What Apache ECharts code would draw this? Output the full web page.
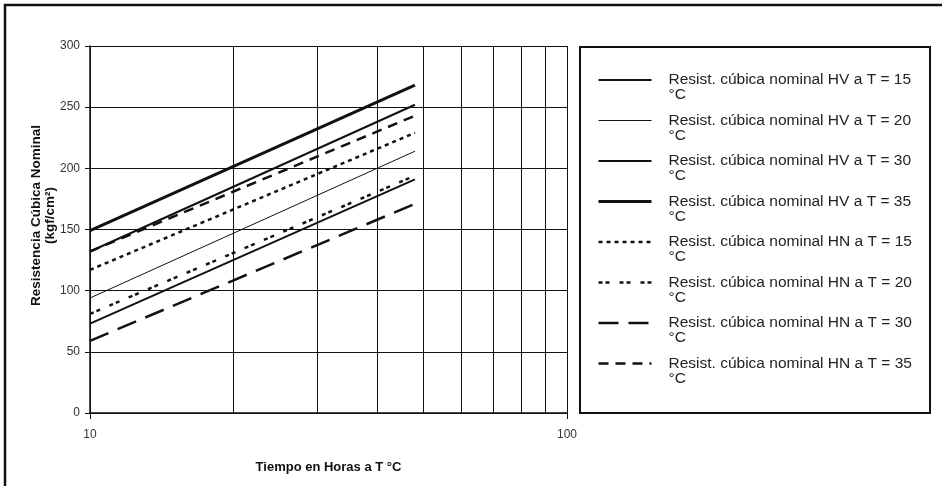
<!DOCTYPE html>
<html>
<head>
<meta charset="utf-8">
<script src="https://cdn.jsdelivr.net/npm/echarts@6/dist/echarts.min.js"></script>
<style>
  html, body { margin: 0; padding: 0; background: #fff; }
  #chart { width: 942px; height: 486px; }
</style>
</head>
<body>
<div id="chart"></div>
<script>
// Time in hours at temperature T (log scale), start and end of each line
const hours = [10, 48];

// Nominal cubic strength (kgf/cm²) – HV series
const hv15 = [73, 191];
const hv20 = [94, 214];
const hv30 = [132, 252];
const hv35 = [149, 268];

// Nominal cubic strength (kgf/cm²) – HN series
const hn15 = [117, 229];
const hn20 = [81, 194];
const hn30 = [59, 171];
const hn35 = [132, 243];

// Intermediate decade gridlines on the log axis
const gridHours = [20, 30, 40, 50, 60, 70, 80, 90];

const yTicks = { min: 0, max: 300, interval: 50 };

const seriesDefs = [
  { name: 'Resist. cúbica nominal HV a T = 15 °C', values: hv15, width: 2,   type: 'solid' },
  { name: 'Resist. cúbica nominal HV a T = 20 °C', values: hv20, width: 1,   type: 'solid' },
  { name: 'Resist. cúbica nominal HV a T = 30 °C', values: hv30, width: 2,   type: 'solid' },
  { name: 'Resist. cúbica nominal HV a T = 35 °C', values: hv35, width: 3,   type: 'solid' },
  { name: 'Resist. cúbica nominal HN a T = 15 °C', values: hn15, width: 2.5, type: [4, 4] },
  { name: 'Resist. cúbica nominal HN a T = 20 °C', values: hn20, width: 2.5, type: [4, 3, 4, 10] },
  { name: 'Resist. cúbica nominal HN a T = 30 °C', values: hn30, width: 2.5, type: [20, 10] },
  { name: 'Resist. cúbica nominal HN a T = 35 °C', values: hn35, width: 2.5, type: [10, 7] }
];

const ink = '#111';
const font = '"Liberation Sans", Arial, sans-serif';

const series = seriesDefs.map((d, i) => {
  const s = {
    name: d.name,
    type: 'line',
    symbol: 'none',
    data: hours.map((h, k) => [h, d.values[k]]),
    lineStyle: { color: ink, width: d.width, type: d.type },
    itemStyle: { color: ink },
    z: 3
  };
  if (i === 0) {
    s.markLine = {
      silent: true,
      symbol: 'none',
      label: { show: false },
      lineStyle: { color: ink, width: 1, type: 'solid' },
      data: gridHours.map(h => ({ xAxis: h })),
      z: 1
    };
  }
  return s;
});

const chart = echarts.init(document.getElementById('chart'));
chart.setOption({
  animation: false,
  backgroundColor: '#fff',
  textStyle: { fontFamily: font },
  grid: { left: 90, right: 375, top: 46, bottom: 73 },
  xAxis: {
    type: 'log',
    logBase: 10,
    min: 10,
    max: 100,
    name: 'Tiempo en Horas a T °C',
    nameLocation: 'middle',
    nameGap: 48,
    nameTextStyle: { fontSize: 13, fontWeight: 'bold', color: ink, fontFamily: font },
    axisLine: { show: true, lineStyle: { color: ink, width: 1.5 } },
    axisTick: { show: true, length: 6, lineStyle: { color: ink } },
    axisLabel: { fontSize: 12, color: '#333', margin: 16, fontFamily: font },
    splitLine: { show: true, lineStyle: { color: ink, width: 1 } }
  },
  yAxis: {
    type: 'value',
    min: yTicks.min,
    max: yTicks.max,
    interval: yTicks.interval,
    name: 'Resistencia Cúbica Nominal\n(kgf/cm²)',
    nameLocation: 'middle',
    nameRotate: 90,
    nameGap: 33,
    nameMoveOverlap: false,
    nameTextStyle: {
      fontSize: 13.5, fontWeight: 'bold', color: ink, lineHeight: 14,
      padding: [0, 0, 0, 28], fontFamily: font
    },
    axisLine: { show: true, lineStyle: { color: ink, width: 1.5 } },
    axisTick: { show: true, length: 5, lineStyle: { color: ink } },
    axisLabel: { fontSize: 12, color: '#333', margin: 10, fontFamily: font },
    splitLine: { show: true, lineStyle: { color: ink, width: 1 } }
  },
  legend: {
    orient: 'vertical',
    left: 597,
    top: 57,
    padding: 0,
    itemWidth: 53,
    itemHeight: 12,
    itemGap: -5.5,
    selectedMode: false,
    itemStyle: { opacity: 0 },
    // blank first line keeps the sample line level with the first text line
    formatter: name => '\n' + name.replace(' °C', '\n°C'),
    textStyle: {
      fontSize: 15.5,
      color: '#222',
      lineHeight: 15,
      padding: [0, 0, 0, 12],
      fontFamily: font
    },
    data: seriesDefs.map(d => ({ name: d.name, lineStyle: { width: d.width } }))
  },
  graphic: [
    {
      type: 'rect',
      shape: { x: 580, y: 47, width: 350, height: 366 },
      style: { fill: 'none', stroke: ink, lineWidth: 2 },
      silent: true
    },
    {
      type: 'rect',
      shape: { x: 5, y: 5, width: 980, height: 520 },
      style: { fill: 'none', stroke: ink, lineWidth: 2.5 },
      silent: true
    }
  ],
  series: series
});
</script>
</body>
</html>
